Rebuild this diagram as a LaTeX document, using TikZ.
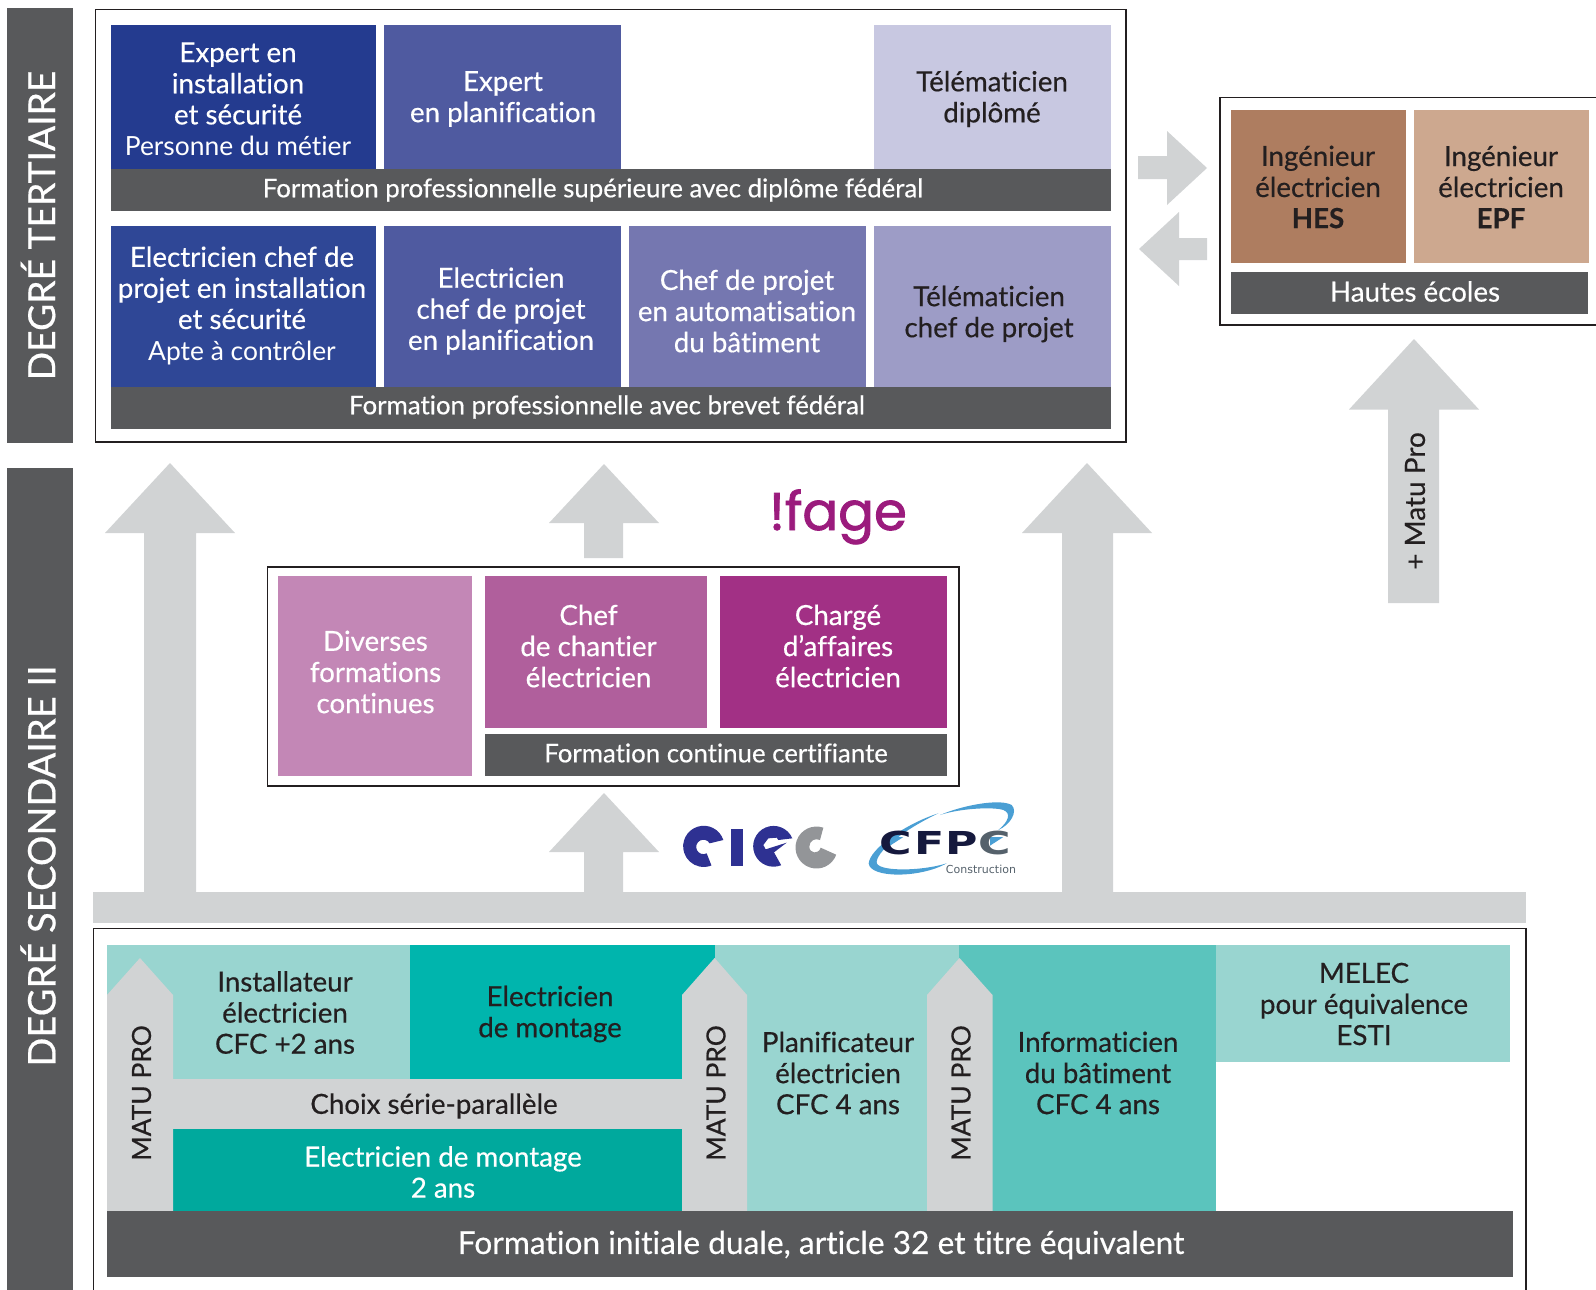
\documentclass[tikz,border=0pt]{standalone}
\usepackage{fontspec}
\setmainfont{Lato}[Ligatures=NoCommon,FakeBold=0.45]
\newfontfamily\lighttext{Lato}[Ligatures=NoCommon]
\newfontfamily\logofont{Poppins}[FakeBold=1.6]
\newfontfamily\cfpcfont{DejaVu Sans}
\definecolor{dk}{HTML}{58595B}
\definecolor{gr}{HTML}{D1D3D4}
\definecolor{ink}{HTML}{231F20}
\definecolor{b1}{HTML}{243B8F}
\definecolor{b2}{HTML}{2F4796}
\definecolor{b3}{HTML}{4F5AA0}
\definecolor{b4}{HTML}{7577B0}
\definecolor{b5}{HTML}{9D9CC6}
\definecolor{b6}{HTML}{C8C8E1}
\definecolor{m1}{HTML}{C387B6}
\definecolor{m2}{HTML}{B05F9C}
\definecolor{m3}{HTML}{A23085}
\definecolor{br1}{HTML}{AE7D60}
\definecolor{br2}{HTML}{CDA88F}
\definecolor{t1}{HTML}{99D5D0}
\definecolor{t2}{HTML}{00B5AD}
\definecolor{t3}{HTML}{5BC4BD}
\definecolor{t4}{HTML}{00A99D}
\definecolor{logop}{HTML}{9B1B7D}
\definecolor{logob}{HTML}{2E3192}
\definecolor{logog}{HTML}{939598}
\definecolor{cfn}{HTML}{15193D}
\definecolor{cfg}{HTML}{55616B}
\definecolor{cfb}{HTML}{4A9FD4}
\newcommand{\lastline}[1]{{\lighttext\fontsize{13.2}{15.55}\selectfont #1}}
\tikzset{
  bxs/.style={inner sep=0pt,outer sep=0pt,draw=none},
  frame/.style={draw=ink,line width=0.55pt,fill=white},
  wt/.style={text=white,align=center,inner sep=0pt,font=\fontsize{13.85}{15.55}\selectfont},
  kt/.style={text=ink,align=center,inner sep=0pt,font=\fontsize{13.85}{15.55}\selectfont},
  bart/.style={text=white,align=center,inner sep=0pt,font=\fontsize{12.9}{15.55}\selectfont},
  side/.style={text=white,inner sep=0pt,rotate=90,font=\fontsize{19}{22}\selectfont},
  matu/.style={text=ink,inner sep=0pt,rotate=90,font=\fontsize{13.2}{15.5}\selectfont},
  arrowshape/.style={fill=gr,draw=none},
  cfl/.style={inner sep=0pt,xscale=1.4,font=\cfpcfont\bfseries\fontsize{15.8}{16}\selectfont}
}
\newcommand{\bx}[6]{%
  \pgfmathsetmacro{\bxw}{(#4-#2)*0.5}%
  \pgfmathsetmacro{\bxh}{(#5-#3)*0.5}%
  \node[bxs,#6,minimum width=\bxw pt,minimum height=\bxh pt] (#1) at ({(#2+#4)/2},{(#3+#5)/2}) {};}
% tipx tipy basey headL headR shaftL shaftR bottom
\newcommand{\uparr}[8]{\fill[arrowshape] (#1,#2) -- (#5,#3) -- (#7,#3) -- (#7,#8) -- (#6,#8) -- (#6,#3) -- (#4,#3) -- cycle;}
\begin{document}
\begin{tikzpicture}[x=0.5pt,y=-0.5pt]
\useasboundingbox (0,0) rectangle (1596,1290);
% side bars
\bx{sideT}{7}{8}{73}{443}{fill=dk}
\bx{sideS}{7}{468}{73}{1295}{fill=dk}
\node[side,font=\fontsize{18.6}{22}\selectfont] (sideTt) at (38,225.5) {DEGRÉ TERTIAIRE};
\node[side] (sideSt) at (38,866) {DEGRÉ SECONDAIRE II};
% top frame
\bx{ftop}{95.5}{9.5}{1126}{442}{frame}
\bx{a1}{111}{24.5}{376}{169}{fill=b1}
\bx{a2}{384}{24.5}{621}{169}{fill=b3}
\bx{a3}{874}{24.5}{1111}{169}{fill=b6}
\bx{bar1}{111}{169}{1111}{211}{fill=dk}
\bx{c1}{111}{226}{376}{387}{fill=b2}
\bx{c2}{384}{226}{621}{387}{fill=b3}
\bx{c3}{629}{226}{866}{387}{fill=b4}
\bx{c4}{874}{226}{1111}{387}{fill=b5}
\bx{bar2}{111}{387}{1111}{429}{fill=dk}
\node[wt] (ta1) at (238,99) {Expert en\\installation\\et sécurité\\\lastline{Personne du métier}};
\node[wt] (ta2) at (503,99) {Expert\\en planification};
\node[kt] (ta3) at (992,99) {Télématicien\\diplômé};
\node[bart] (tb1) at (593,190) {Formation professionnelle supérieure avec diplôme fédéral};
\node[wt] (tc1) at (242,305.5) {Electricien chef de\\projet en installation\\et sécurité\\\lastline{Apte à contrôler}};
\node[wt] (tc2) at (501,311) {Electricien\\chef de projet\\en planification};
\node[wt] (tc3) at (747,311) {Chef de projet\\en automatisation\\du bâtiment};
\node[kt] (tc4) at (989,314) {Télématicien\\chef de projet};
\node[bart] (tb2) at (607,407) {Formation professionnelle avec brevet fédéral};
% right frame
\bx{fr}{1220}{97.5}{1604}{325}{frame}
\bx{h1}{1231}{110}{1406}{263}{fill=br1}
\bx{h2}{1414}{110}{1589}{263}{fill=br2}
\bx{h3}{1231}{272}{1588}{314}{fill=dk}
\node[kt] (th1) at (1318,187) {Ingénieur\\électricien\\\textbf{HES}};
\node[kt] (th2) at (1501,187) {Ingénieur\\électricien\\\textbf{EPF}};
\node[wt] (th3) at (1415,291.5) {Hautes écoles};
% side arrows
\fill[arrowshape] (1207,168) -- (1167,131) -- (1167,156) -- (1138,156) -- (1138,179) -- (1167,179) -- (1167,205) -- cycle;
\fill[arrowshape] (1139,249) -- (1179,212) -- (1179,238) -- (1207,238) -- (1207,260) -- (1179,260) -- (1179,286) -- cycle;
% up arrows
\uparr{1414}{339}{409.5}{1349}{1479}{1388}{1439}{603}
\node[matu,font=\fontsize{14}{16}\selectfont] (tm) at (1415,501) {+ Matu Pro};
\uparr{170}{463}{533}{105}{235}{144}{196}{893}
\uparr{604}{464}{523}{549}{659}{584}{623}{558}
\uparr{604}{793}{852}{549}{659}{584}{623}{893}
\uparr{1087}{463}{533}{1022}{1152}{1062}{1113}{893}
\bx{hbar}{93}{892}{1526}{923}{fill=gr}
% middle frame
\bx{fm}{267.5}{567}{959}{786}{frame}
\bx{m1b}{278}{576}{472}{776}{fill=m1}
\bx{m2b}{485}{576}{707}{728}{fill=m2}
\bx{m3b}{720}{576}{947}{728}{fill=m3}
\bx{m4b}{485}{734}{947}{776}{fill=dk}
\node[wt] (tm1) at (375.5,672) {Diverses\\formations\\continues};
\node[wt] (tm2) at (588.5,646) {Chef\\de chantier\\électricien};
\node[wt] (tm3) at (838,646) {Chargé\\d’affaires\\électricien};
\node[bart] (tm4) at (716,753) {Formation continue certifiante};
% ifage logo
\node[anchor=base,inner sep=0pt,text=logop,font=\logofont\fontsize{26.5}{30}\selectfont] (ifage) at (838,530) {!fage};
% CIEC logo (coordinates in thirds of a pixel)
\begin{scope}[shift={(675,795)},x=0.16667pt,y=-0.16667pt]
\fill[logob] (145,135) arc[start angle=18,end angle=292,radius=10.3pt] -- (95,175) arc[start angle=297,end angle=30,radius=3.6pt] -- cycle;
\fill[logob] (168,102) rectangle (205,213);
\fill[logob] (352,130) arc[start angle=23,end angle=292,radius=10.2pt] -- (297,172) -- (335,143) -- (272,163) -- (265,150) -- (280,130) -- (305,128) -- (310,135) -- cycle;
\fill[logog] (445,98) arc[start angle=71,end angle=340,radius=10.5pt] -- (437,158) .. controls (430,180) and (403,175) .. (403,155) .. controls (403,137) and (420,128) .. (435,135) -- cycle;
\end{scope}
% CFPC logo (coordinates in thirds of a pixel)
\begin{scope}[shift={(860,795)},x=0.16667pt,y=-0.16667pt]
\fill[cfb] (235,55) .. controls (140,85) and (30,160) .. (26,205) .. controls (30,250) and (180,250) .. (260,205) .. controls (180,230) and (45,230) .. (50,200) .. controls (55,160) and (150,95) .. (235,55) -- cycle;
\fill[cfb] (240,60) .. controls (310,30) and (420,10) .. (455,30) .. controls (475,50) and (450,90) .. (415,105) .. controls (445,80) and (455,55) .. (430,45) .. controls (400,35) and (300,40) .. (240,60) -- cycle;
\fill[cfb] (90,126) -- (130,126) -- (90,152) -- cycle;
\fill[cfb] (390,126) -- (430,126) -- (390,152) -- cycle;
\end{scope}
\node[cfl,text=cfn] (cfC) at (895.7,843) {C};
\node[cfl,text=cfn] (cfF) at (929.5,843) {F};
\node[cfl,text=cfn] (cfP) at (962,843) {P};
\node[cfl,text=cfg] (cfD) at (995,843) {C};
\node[inner sep=0pt,text=cfg,font=\cfpcfont\fontsize{5.5}{6}\selectfont] (cfpc3) at (981,869) {Construction};
% bottom frame
\bx{fb}{93.5}{928.5}{1526}{1296}{frame}
\bx{s1}{107}{945}{410}{1079}{fill=t1}
\bx{s2}{410}{945}{715}{1079}{fill=t2}
\bx{s3}{715}{945}{959}{1211}{fill=t1}
\bx{s4}{959}{945}{1215.5}{1211}{fill=t3}
\bx{s5}{1215.5}{945}{1510}{1062}{fill=t1}
\bx{s6}{107}{1079}{682}{1129}{fill=gr}
\bx{s7}{173}{1129}{682}{1211}{fill=t4}
\uparr{140}{958}{995}{107}{173}{107}{173}{1211}
\uparr{714.6}{958}{995}{682}{747}{682}{747}{1211}
\uparr{959.5}{958}{995}{927}{992.5}{927}{992.5}{1211}
\bx{s8}{107}{1211}{1513}{1277}{fill=dk}
\node[kt] (ts1) at (285,1012.5) {Installateur\\électricien\\CFC +2 ans};
\node[kt] (ts2) at (550,1014) {Electricien\\de montage};
\node[kt] (ts3) at (434,1106) {Choix série-parallèle};
\node[wt] (ts4) at (443,1172) {Electricien de montage\\2 ans};
\node[kt] (ts5) at (838,1073) {Planificateur\\électricien\\CFC 4 ans};
\node[kt] (ts6) at (1098,1073) {Informaticien\\du bâtiment\\CFC 4 ans};
\node[kt] (ts7) at (1364,1004) {MELEC\\pour équivalence\\ESTI};
\node[wt,font=\fontsize{15.85}{18}\selectfont] (ts8) at (821,1245) {Formation initiale duale, article 32 et titre équivalent};
\node[matu] (tm1a) at (141.5,1093) {MATU PRO};
\node[matu] (tm2a) at (716,1093) {MATU PRO};
\node[matu] (tm3a) at (961,1093) {MATU PRO};
\end{tikzpicture}
\end{document}
